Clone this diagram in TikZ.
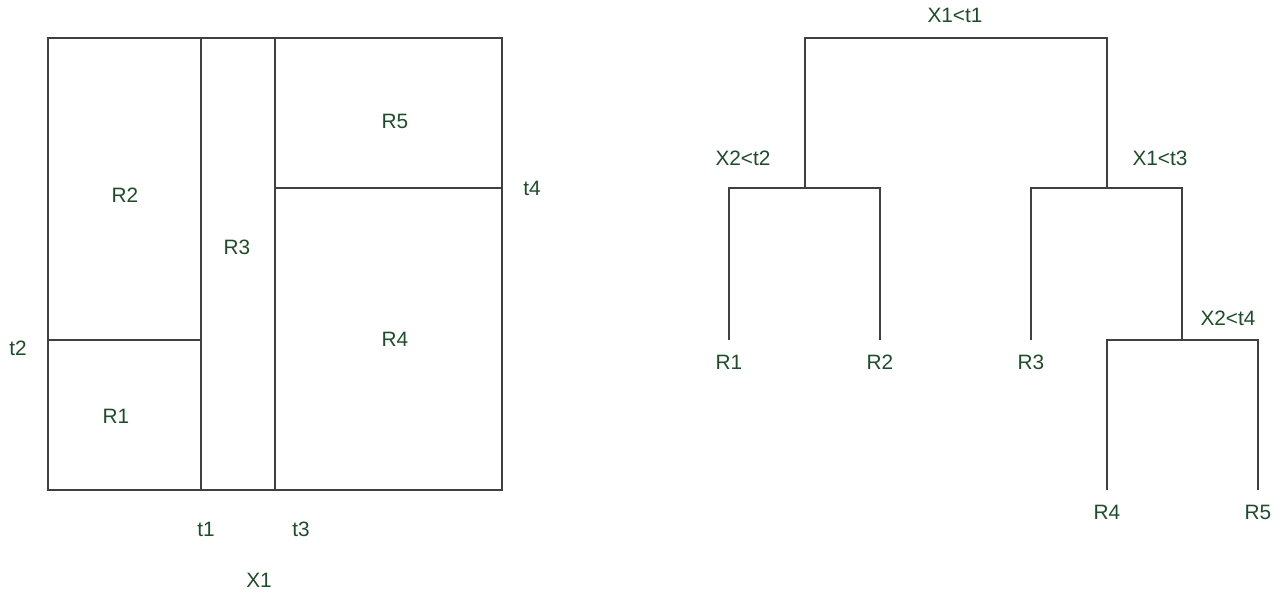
\documentclass[tikz,border=0pt]{standalone}
\usepackage{fontspec}
\setmainfont{Liberation Sans}
\usepackage{xcolor}
\usepackage{tikz}
\usetikzlibrary{positioning}
\definecolor{labelgreen}{HTML}{1E4D2B}
\definecolor{linegray}{HTML}{404040}

\begin{document}
\begin{tikzpicture}[x=0.5pt,y=-0.5pt,
  font=\fontsize{10.4}{12}\selectfont,
  every node/.style={text=labelgreen,inner sep=0pt},
  cut/.style={draw=linegray,line width=0.6pt},
  leaf/.style={anchor=north,inner ysep=7.2pt}]
\useasboundingbox (0,0) rectangle (1283,596);

% partition of the (X1,X2) plane
\draw[cut] (48,38) rectangle (502,490);
\draw[cut] (201,38) -- (201,490);
\draw[cut] (275,38) -- (275,490);
\draw[cut] (48,340) -- (201,340);
\draw[cut] (275,188) -- (502,188);

\node (p2) at (125,195) {R2};
\node (p1) at (116,416) {R1};
\node (p3) at (237,247) {R3};
\node (p5) at (395,121) {R5};
\node (p4) at (395,339) {R4};
\node (tt2) at (18,348) {t2};
\node (tt4) at (532,188) {t4};
\node (tt1) at (206,529) {t1};
\node (tt3) at (301,529) {t3};
\node (ax1) at (259,580) {X1};

% the tree
\coordinate (top) at (955,38);
\coordinate (s2) at (805,188);
\coordinate (s3) at (1107,188);
\coordinate (s4) at (1182,340);

\node[leaf] (r1) at (729,340) {R1};
\node[leaf] (r2) at (880,340) {R2};
\node[leaf] (r3) at (1031,340) {R3};
\node[leaf] (r4) at (1107,490) {R4};
\node[leaf] (r5) at (1258,490) {R5};

\node (q1) at (955,15) {X1<t1};
\node (q2) at (743,158) {X2<t2};
\node (q3) at (1160,158) {X1<t3};
\node (q4) at (1228,318) {X2<t4};

\draw[cut] (s2) |- (top) -| (s3);
\draw[cut] (r1.north) |- (s2) -| (r2.north);
\draw[cut] (r3.north) |- (s3) -| (s4);
\draw[cut] (r4.north) |- (s4) -| (r5.north);

\end{tikzpicture}
\end{document}
